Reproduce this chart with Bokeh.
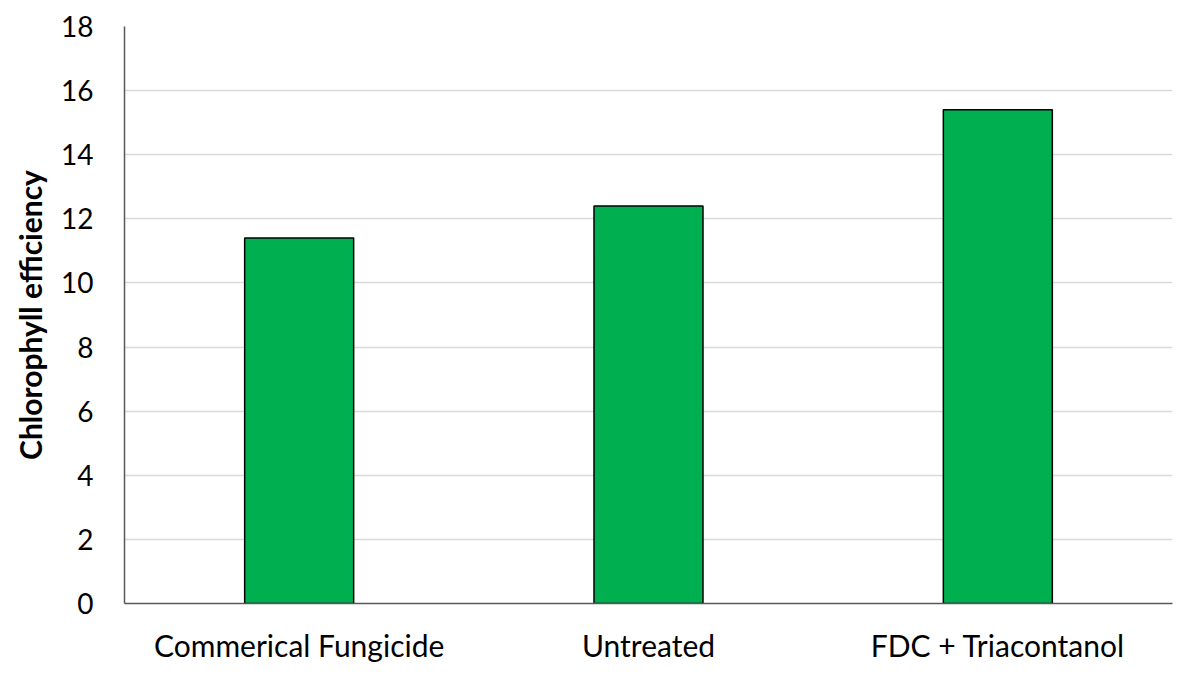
from bokeh.plotting import figure
from bokeh.models import ColumnDataSource, FactorRange, Range1d, SingleIntervalTicker
from bokeh.embed import file_html
from bokeh.resources import INLINE

categories = ["Commerical Fungicide", "Untreated", "FDC + Triacontanol"]
values = [11.4, 12.4, 15.4]

src = ColumnDataSource(data=dict(cat=categories, val=values))

p = figure(x_range=FactorRange(*categories, range_padding=0), y_range=Range1d(0, 18),
           width=1192, height=675, output_backend="svg", toolbar_location=None,
           min_border_left=124, min_border_right=20, min_border_top=26, min_border_bottom=72)
p.vbar(x="cat", top="val", width=0.312, source=src, fill_color="#00B050",
       line_color="black", line_width=1.5)

p.outline_line_color = None
p.xgrid.grid_line_color = None
p.ygrid.grid_line_color = "#d9d9d9"
p.ygrid.grid_line_width = 1.5

p.yaxis.ticker = SingleIntervalTicker(interval=2)
p.yaxis.axis_label = "Chlorophyll efficiency"
p.yaxis.axis_label_text_font = "Lato"
p.yaxis.axis_label_text_font_style = "bold"
p.yaxis.axis_label_text_font_size = "30px"
p.yaxis.axis_label_text_color = "black"
p.yaxis.axis_label_standoff = 10

for ax in (p.xaxis, p.yaxis):
    ax.major_label_text_font = "Lato"
    ax.major_label_text_color = "black"
    ax.major_tick_line_color = None
    ax.minor_tick_line_color = None
    ax.axis_line_color = "#595959"
    ax.axis_line_width = 1.5

p.yaxis.major_label_text_font_size = "28px"
p.yaxis.major_label_standoff = 25
p.xaxis.major_label_text_font_size = "30px"
p.xaxis.major_label_standoff = 17

open("out.html", "w").write(file_html(p, INLINE))
